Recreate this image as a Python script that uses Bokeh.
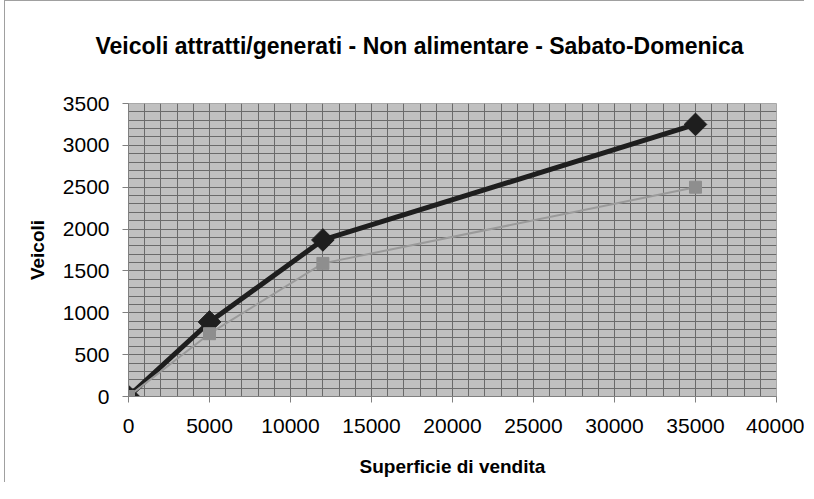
import math
from bokeh.plotting import figure
from bokeh.models import Range1d, SingleIntervalTicker, LinearAxis, FixedTicker
from bokeh.embed import file_html
from bokeh.resources import INLINE

# Data
superficie = [0, 5000, 12000, 35000]
veicoli_serie1 = [0, 890, 1870, 3250]
veicoli_serie2 = [0, 750, 1590, 2500]
titolo = "Veicoli attratti/generati - Non alimentare - Sabato-Domenica"

FONT = "Liberation Sans"

p = figure(
    width=800, height=482,
    output_backend="svg", toolbar_location=None,
    x_range=Range1d(0, 40000), y_range=Range1d(0, 3500),
    min_border_left=123, min_border_right=29,
    min_border_top=102, min_border_bottom=87,
    title=titolo,
)
# thin grey chart-area border on the left and top, like the reference
p.styles = {"margin-left": "4px",
            "border-left": "1px solid #a0a0a0", "border-top": "1px solid #a0a0a0"}

p.title.text_font = FONT
p.title.text_font_size = "23px"
p.title.text_font_style = "bold"
p.title.text_color = "#000000"
p.title.align = "left"
p.title.offset = -33
p.title.standoff = 0

p.background_fill_color = "#c0c0c0"
p.border_fill_color = "#ffffff"
p.outline_line_color = "#a8a8a8"
p.outline_line_width = 1

p.xaxis.ticker = SingleIntervalTicker(interval=5000, num_minor_ticks=5)
p.yaxis.ticker = SingleIntervalTicker(interval=500, num_minor_ticks=5)

for ax in (p.xaxis[0], p.yaxis[0]):
    ax.axis_line_color = "#808080"
    ax.axis_line_width = 1
    ax.major_tick_line_color = "#808080"
    ax.major_tick_out = 6
    ax.major_tick_in = 0
    ax.minor_tick_line_color = None
    ax.major_label_text_font = FONT
    ax.major_label_text_font_size = "21px"
    ax.major_label_text_color = "#000000"
    ax.axis_label_text_font = FONT
    ax.axis_label_text_font_size = "19px"
    ax.axis_label_text_font_style = "bold"
    ax.axis_label_text_color = "#000000"

p.xaxis.major_label_standoff = 16
p.yaxis.major_label_standoff = 13
p.xaxis.axis_label = "Superficie di vendita"
p.yaxis.axis_label = "Veicoli"
p.xaxis.axis_label_standoff = 20
p.yaxis.axis_label_standoff = 12

for g in (p.xgrid[0], p.ygrid[0]):
    g.grid_line_color = "#6a6a6a"
    g.grid_line_width = 1
    g.minor_grid_line_color = "#6a6a6a"
    g.minor_grid_line_width = 1

# invisible spacer axis between the frame and the title (one hidden tick so
# that its tick length reserves space), pushing the title upward
spacer = LinearAxis(ticker=FixedTicker(ticks=[20000]), axis_line_color=None,
                    major_tick_line_color=None, minor_tick_line_color=None,
                    major_tick_out=45, major_tick_in=0,
                    major_label_standoff=5,
                    major_label_overrides={20000: ""},
                    major_label_text_color=None)
p.add_layout(spacer, "above")

# Series 1 (dark, diamonds)
p.line(superficie, veicoli_serie1, line_color="#1e1e1e", line_width=5)
p.scatter(superficie, veicoli_serie1, marker="square", size=16, angle=math.pi / 4,
          fill_color="#1e1e1e", line_color="#1e1e1e")

# Series 2 (grey, squares)
p.line(superficie, veicoli_serie2, line_color="#9a9a9a", line_width=2)
p.scatter(superficie, veicoli_serie2, marker="square", size=12,
          fill_color="#8e8e8e", line_color="#8e8e8e")

open("out.html", "w").write(file_html(p, INLINE))
